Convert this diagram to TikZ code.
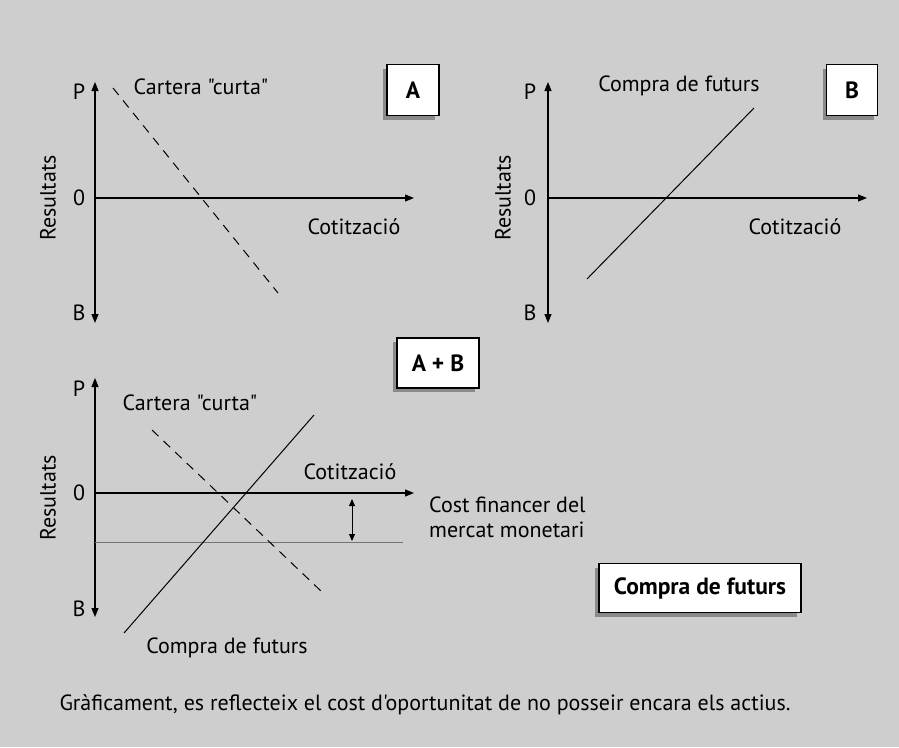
\documentclass[tikz,border=0pt]{standalone}
\usepackage{fontspec}
\setmainfont{PT Sans}[Ligatures=TeXOff]
\usetikzlibrary{arrows.meta,shadows}
\definecolor{bg}{HTML}{CECECE}
\definecolor{shad}{HTML}{8A8A8A}
\begin{document}
\begin{tikzpicture}[x=1pt,y=-1pt,
  lbl/.style={font=\fontsize{22}{24}\selectfont, inner sep=0pt},
  axis/.style={line width=1.1pt, -{Triangle[length=9pt,width=7pt]}},
  curve/.style={line width=1pt},
  dashcurve/.style={line width=1pt, dash pattern=on 9pt off 7pt},
  tagbox/.style={draw, line width=1.3pt, fill=white, font=\fontsize{23.5}{25}\selectfont\bfseries,
     copy shadow={shadow xshift=-4pt, shadow yshift=-4pt, fill=shad, draw=none}},
]
\fill[bg] (0,0) rectangle (899,747);
\useasboundingbox (0,0) rectangle (899,747);

% ---------- Panel A ----------
\coordinate (aO) at (95,198);
\coordinate (aT) at (95,82);
\coordinate (aB) at (95,323);
\coordinate (aR) at (414,198);
\draw[axis] (aO) -- (aT);
\draw[axis] (aO) -- (aB);
\draw[axis] (aO) -- (aR);
\node[lbl] (aP) at (79,92) {P};
\node[lbl] (a0) at (79,198) {0};
\node[lbl] (aBl) at (79,313) {B};
\node[lbl, rotate=90] (aRes) at (48,198) {Resultats};
\node[lbl] (aCot) at (354,227) {Cotització};
\node[lbl] (aCart) at (201,87) {Cartera "curta"};
\coordinate (aD1) at (113,88);
\coordinate (aD2) at (278,293);
\draw[dashcurve] (aD1) -- (aD2);
\node[tagbox, minimum width=52pt, minimum height=51pt] (boxA) at (413,90) {A};

% ---------- Panel B ----------
\coordinate (bO) at (548,198);
\coordinate (bT) at (548,82);
\coordinate (bB) at (548,323);
\coordinate (bR) at (867,198);
\draw[axis] (bO) -- (bT);
\draw[axis] (bO) -- (bB);
\draw[axis] (bO) -- (bR);
\node[lbl] (bP) at (530,92) {P};
\node[lbl] (b0) at (530,198) {0};
\node[lbl] (bBl) at (530,313) {B};
\node[lbl, rotate=90] (bRes) at (503,198) {Resultats};
\node[lbl] (bCot) at (795,227) {Cotització};
\node[lbl] (bComp) at (679,86) {Compra de futurs};
\coordinate (bL1) at (587,279);
\coordinate (bL2) at (754,108);
\draw[curve] (bL1) -- (bL2);
\node[tagbox, minimum width=51pt, minimum height=51pt] (boxB) at (852,90) {B};

% ---------- Panel A+B ----------
\coordinate (cO) at (95,493);
\coordinate (cT) at (95,378);
\coordinate (cB) at (95,617);
\coordinate (cR) at (414,493);
\draw[axis] (cO) -- (cT);
\draw[axis] (cO) -- (cB);
\draw[axis] (cO) -- (cR);
\node[lbl] (cP) at (79,389) {P};
\node[lbl] (c0) at (79,493) {0};
\node[lbl] (cBl) at (79,609) {B};
\node[lbl, rotate=90] (cRes) at (48,498) {Resultats};
\node[lbl] (cCart) at (190,403) {Cartera "curta"};
\node[lbl] (cCot) at (350,472) {Cotització};
\node[lbl, anchor=west] (cCost1) at (429,505) {Cost financer del};
\node[lbl, anchor=west] (cCost2) at (429,530) {mercat monetari};
\node[lbl] (cComp) at (227,648) {Compra de futurs};
\coordinate (cG1) at (95,542);
\coordinate (cG2) at (403,542);
\draw[line width=0.8pt, draw=black!55] (cG1) -- (cG2);
\coordinate (cA1) at (352,499);
\coordinate (cA2) at (352,541);
\draw[line width=1pt, {Triangle[length=7pt,width=6pt]}-{Triangle[length=7pt,width=6pt]}] (cA1) -- (cA2);
\coordinate (cL1) at (124,633);
\coordinate (cL2) at (314,415);
\draw[curve] (cL1) -- (cL2);
\coordinate (cD1) at (152,430);
\coordinate (cD2) at (322,592);
\draw[dashcurve] (cD1) -- (cD2);
\node[tagbox, minimum width=82pt, minimum height=50pt] (boxAB) at (438,363) {A + B};
\node[tagbox, minimum width=202pt, minimum height=49pt] (boxComp) at (700,588) {Compra de futurs};

% ---------- Caption ----------
\node[lbl] (caption) at (425,705) {Gràficament, es reflecteix el cost d'oportunitat de no posseir encara els actius.};
\end{tikzpicture}
\end{document}
